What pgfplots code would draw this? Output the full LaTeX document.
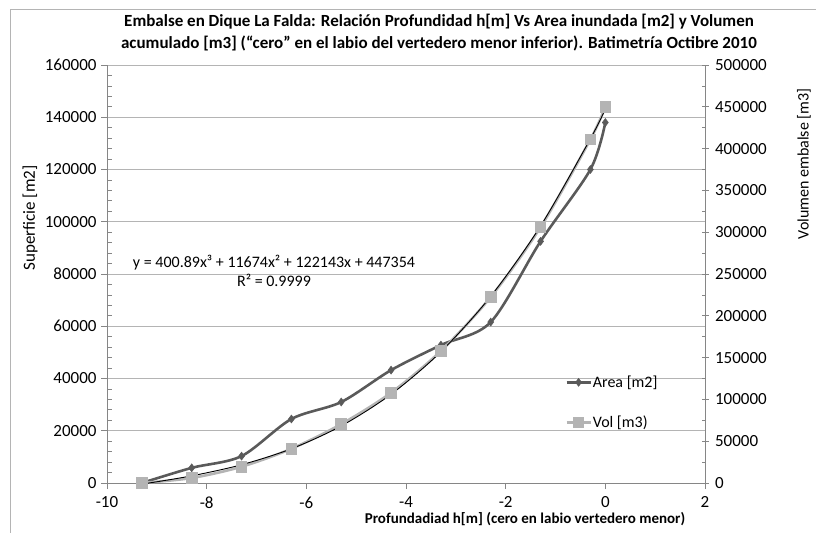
\documentclass[border=0pt]{standalone}
\usepackage{fontspec}
\setmainfont{Carlito}
\usepackage{pgfplots}
\pgfplotsset{compat=1.18}
\definecolor{areaC}{HTML}{5A5A5A}
\definecolor{volC}{HTML}{B4B4B4}
\definecolor{gridC}{HTML}{B4B4B4}
\definecolor{axC}{HTML}{868686}

\begin{document}
\begin{tikzpicture}[x=1bp,y=1bp]
\useasboundingbox (0,0) rectangle (816,-533);
\draw[gridC] (10,-540) -- (10,-9) -- (820,-9);

\pgfplotsset{
  base/.style={
    scale only axis, width=598bp, height=418bp,
    at={(107bp,-483bp)}, anchor=south west,
    xmin=-10, xmax=2,
    /pgf/number format/fixed,
    /pgf/number format/assume math mode=true,
    /pgf/number format/1000 sep={},
    scaled y ticks=false,
    tick label style={font=\fontsize{17bp}{20bp}\selectfont},
    axis line style={axC, line width=0.8bp},
    tick style={axC, line width=0.8bp},
  }
}

\begin{axis}[base,
  axis x line*=bottom, axis y line*=left,
  xtick={-10,-8,...,2}, tick align=outside,
  major tick length=6bp, minor tick length=5bp,
  every minor y tick/.append style={xshift=5bp},
  ymin=0, ymax=160000, ytick={0,20000,...,160000},
  minor y tick num=4,
  ymajorgrids, grid style={gridC, line width=0.8bp},
  yticklabel style={xshift=-1bp},
  xticklabel style={yshift=-4bp},
]
\addplot[areaC, line width=2.6bp, smooth, tension=0.5, mark=diamond*, mark size=4bp,
  mark options={fill=areaC, draw=areaC, line width=0.5bp}] coordinates {
  (-9.3,0) (-8.3,5800) (-7.3,10300) (-6.3,24500) (-5.3,31000) (-4.3,43200)
  (-3.3,52800) (-2.3,61600) (-1.3,92500) (-0.3,120000) (0,138000)};
\end{axis}

\begin{axis}[base,
  axis x line=none, axis y line*=right, tick align=center,
  major tick length=7bp, minor tick length=3bp,
  every minor y tick/.append style={xshift=-1.5bp},
  ymin=0, ymax=500000, ytick={0,50000,...,500000},
  minor y tick num=1,
  yticklabel style={xshift=3bp},
  legend style={at={(0.766,0.257)}, anchor=north west, draw=none, fill=none,
    inner sep=0pt, row sep=27bp,
    font=\fontsize{16bp}{19bp}\selectfont,
    nodes={inner xsep=1bp, inner ysep=0pt}},
  legend cell align=left,
  legend image code/.code={\draw[mark repeat=2,mark phase=2,#1]
    plot coordinates {(0bp,0bp) (12bp,0bp) (24bp,0bp)};},
]
\addlegendimage{areaC, line width=2.6bp, mark=diamond*, mark size=4bp,
  mark options={fill=areaC, draw=areaC, line width=0.5bp}}
\addlegendentry{Area [m2]}
\addplot[volC, line width=2.6bp, smooth, tension=0.5, mark=square*, mark size=4.5bp,
  mark options={fill=volC, draw=volC}] coordinates {
  (-9.3,0) (-8.3,6000) (-7.3,19500) (-6.3,41000) (-5.3,70500) (-4.3,108000)
  (-3.3,158000) (-2.3,222500) (-1.3,306000) (-0.3,411000) (0,450000)};
\addlegendentry{Vol [m3)}
\addplot[black, line width=0.9bp, smooth, forget plot] coordinates {
  (-9.3,-1351) (-8.3,8565) (-7.3,21864) (-6.3,40953) (-5.3,68236) (-4.3,106117)
  (-3.3,157005) (-2.3,223302) (-1.3,307416) (-0.3,411751) (0,447354)};
\end{axis}

\node[font=\bfseries\fontsize{17bp}{22bp}\selectfont, align=center] at (439,-33)
  {Embalse en Dique La Falda: Relación Profundidad h[m] Vs Area inundada [m2] y Volumen\\
   acumulado [m3] (“cero” en el labio del vertedero menor inferior). Batimetría Octibre 2010};
\node[font=\bfseries\fontsize{15bp}{18bp}\selectfont] at (525,-519)
  {Profundadiad h[m] (cero en labio vertedero menor)};
\node[font=\fontsize{17bp}{20bp}\selectfont, rotate=90] at (30,-218) {Superficie [m2]};
\node[font=\fontsize{16bp}{19bp}\selectfont, rotate=90] at (804,-164) {Volumen embalse [m3]};
\node[font=\fontsize{16bp}{19bp}\selectfont, align=center, inner sep=0pt] at (274,-271)
  {y = 400.89x³ + 11674x² + 122143x + 447354\\R² = 0.9999};
\end{tikzpicture}
\end{document}
